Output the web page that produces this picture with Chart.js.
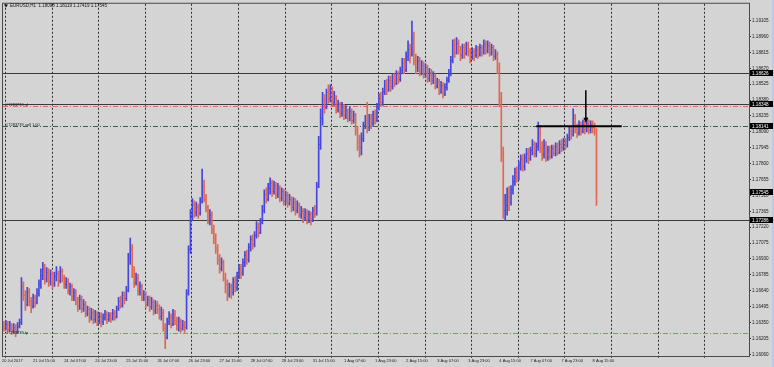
<!DOCTYPE html>
<html>
<head>
<meta charset="utf-8">
<script src="https://cdn.jsdelivr.net/npm/chart.js@4.4.1/dist/chart.umd.min.js"></script>
<style>
  html, body { margin: 0; padding: 0; background: #d4d4d4; }
  #wrap { width: 774px; height: 367px; position: relative; }
</style>
</head>
<body>
<div id="wrap"><canvas id="chart"></canvas></div>
<script>
// EURUSD H1, 20 Jul 2017 23:00 .. 8 Aug 2017 16:00 (one entry per hourly bar)
const opens = [
  1.1632, 1.1630, 1.1634, 1.1629, 1.1633, 1.1628, 1.1631, 1.1627, 1.1632, 1.1635,
  1.1668, 1.1660, 1.1652, 1.1663, 1.1655, 1.1650, 1.1658, 1.1654, 1.1662, 1.1670,
  1.1678, 1.1684, 1.1676, 1.1681, 1.1673, 1.1679, 1.1671, 1.1677, 1.1680, 1.1674,
  1.1682, 1.1676, 1.1670, 1.1673, 1.1664, 1.1668, 1.1659, 1.1663, 1.1655, 1.1650,
  1.1656, 1.1648, 1.1652, 1.1644, 1.1647, 1.1640, 1.1645, 1.1638, 1.1643, 1.1637,
  1.1641, 1.1636, 1.1640, 1.1643, 1.1638, 1.1642, 1.1639, 1.1644, 1.1641, 1.1648,
  1.1655, 1.1651, 1.1660, 1.1657, 1.1665, 1.1695, 1.1702, 1.1680, 1.1672, 1.1676,
  1.1664, 1.1668, 1.1658, 1.1661, 1.1652, 1.1656, 1.1650, 1.1654, 1.1646, 1.1651,
  1.1647, 1.1641, 1.1645, 1.1630, 1.1622, 1.1636, 1.1640, 1.1634, 1.1643, 1.1637,
  1.1633, 1.1636, 1.1630, 1.1633, 1.1631, 1.1662, 1.1702, 1.1733, 1.1742, 1.1736,
  1.1740, 1.1735, 1.1746, 1.1760, 1.1748, 1.1740, 1.1728, 1.1733, 1.1720, 1.1712,
  1.1702, 1.1693, 1.1685, 1.1690, 1.1676, 1.1670, 1.1661, 1.1668, 1.1663, 1.1672,
  1.1667, 1.1678, 1.1684, 1.1680, 1.1690, 1.1697, 1.1693, 1.1704, 1.1711, 1.1707,
  1.1715, 1.1722, 1.1718, 1.1727, 1.1738, 1.1752, 1.1748, 1.1758, 1.1762, 1.1755,
  1.1760, 1.1752, 1.1758, 1.1749, 1.1755, 1.1746, 1.1751, 1.1744, 1.1748, 1.1740,
  1.1745, 1.1738, 1.1742, 1.1734, 1.1737, 1.1731, 1.1736, 1.1729, 1.1734, 1.1730,
  1.1738, 1.1735, 1.1760, 1.1798, 1.1822, 1.1838, 1.1832, 1.1845, 1.1840, 1.1848,
  1.1836, 1.1840, 1.1830, 1.1834, 1.1826, 1.1832, 1.1824, 1.1829, 1.1822, 1.1828,
  1.1820, 1.1824, 1.1812, 1.1800, 1.1795, 1.1803, 1.1815, 1.1820, 1.1813, 1.1822,
  1.1817, 1.1825, 1.1820, 1.1832, 1.1840, 1.1836, 1.1846, 1.1852, 1.1848, 1.1856,
  1.1851, 1.1858, 1.1854, 1.1862, 1.1857, 1.1865, 1.1872, 1.1866, 1.1878, 1.1885,
  1.1880, 1.1895, 1.1875, 1.1868, 1.1874, 1.1865, 1.1870, 1.1862, 1.1868, 1.1858,
  1.1864, 1.1856, 1.1860, 1.1851, 1.1855, 1.1846, 1.1852, 1.1844, 1.1850, 1.1856,
  1.1862, 1.1875, 1.1888, 1.1882, 1.1890, 1.1884, 1.1879, 1.1886, 1.1881, 1.1888,
  1.1883, 1.1877, 1.1883, 1.1879, 1.1885, 1.1880, 1.1886, 1.1882, 1.1889, 1.1884,
  1.1888, 1.1882, 1.1886, 1.1878, 1.1880, 1.1868, 1.1838, 1.1790, 1.1738, 1.1742,
  1.1750, 1.1745, 1.1757, 1.1764, 1.1772, 1.1768, 1.1779, 1.1784, 1.1778, 1.1786,
  1.1790, 1.1785, 1.1792, 1.1798, 1.1790, 1.1796, 1.1808, 1.1795, 1.1789, 1.1797,
  1.1786, 1.1792, 1.1787, 1.1794, 1.1790, 1.1796, 1.1791, 1.1798, 1.1795, 1.1800,
  1.1797, 1.1804, 1.1810, 1.1807, 1.1818, 1.1812, 1.1808, 1.1815, 1.1810, 1.1816,
  1.1812, 1.1817, 1.1811, 1.1816, 1.1813, 1.18098
];
const highs = [
  1.1636, 1.1637, 1.1636, 1.1636, 1.1634, 1.1634, 1.1633, 1.1635, 1.1638, 1.1676,
  1.1672, 1.1664, 1.1667, 1.1666, 1.1658, 1.1661, 1.1660, 1.1666, 1.1674, 1.1684,
  1.1690, 1.1688, 1.1685, 1.1684, 1.1683, 1.1681, 1.1681, 1.1686, 1.1682, 1.1686,
  1.1684, 1.1678, 1.1676, 1.1675, 1.1671, 1.1670, 1.1666, 1.1665, 1.1658, 1.1660,
  1.1659, 1.1656, 1.1654, 1.1650, 1.1649, 1.1648, 1.1647, 1.1646, 1.1645, 1.1644,
  1.1644, 1.1643, 1.1646, 1.1645, 1.1644, 1.1644, 1.1647, 1.1646, 1.1650, 1.1658,
  1.1659, 1.1663, 1.1663, 1.1668, 1.1698, 1.1712, 1.1706, 1.1686, 1.1680, 1.1679,
  1.1672, 1.1670, 1.1664, 1.1663, 1.1659, 1.1659, 1.1658, 1.1656, 1.1655, 1.1654,
  1.1651, 1.1649, 1.1647, 1.1634, 1.1639, 1.1645, 1.1643, 1.1647, 1.1646, 1.1640,
  1.1640, 1.1638, 1.1637, 1.1636, 1.1665, 1.1705, 1.1738, 1.1748, 1.1746, 1.1745,
  1.1743, 1.1749, 1.1775, 1.1765, 1.1752, 1.1742, 1.1738, 1.1736, 1.1724, 1.1716,
  1.1706, 1.1697, 1.1694, 1.1692, 1.1680, 1.1674, 1.1671, 1.1670, 1.1676, 1.1677,
  1.1681, 1.1688, 1.1688, 1.1693, 1.1700, 1.1701, 1.1707, 1.1714, 1.1715, 1.1718,
  1.1727, 1.1726, 1.1730, 1.1742, 1.1756, 1.1758, 1.1762, 1.1767, 1.1765, 1.1764,
  1.1763, 1.1762, 1.1760, 1.1758, 1.1757, 1.1755, 1.1754, 1.1752, 1.1750, 1.1749,
  1.1748, 1.1746, 1.1744, 1.1741, 1.1739, 1.1739, 1.1738, 1.1737, 1.1736, 1.1740,
  1.1742, 1.1763, 1.1805, 1.1830, 1.1845, 1.1843, 1.1848, 1.1852, 1.1852, 1.1850,
  1.1846, 1.1842, 1.1838, 1.1836, 1.1836, 1.1834, 1.1833, 1.1830, 1.1832, 1.1830,
  1.1828, 1.1826, 1.1814, 1.1806, 1.1808, 1.1818, 1.1824, 1.1836, 1.1825, 1.1825,
  1.1828, 1.1829, 1.1835, 1.1844, 1.1845, 1.1849, 1.1856, 1.1857, 1.1860, 1.1860,
  1.1862, 1.1862, 1.1865, 1.1864, 1.1868, 1.1876, 1.1876, 1.1882, 1.1892, 1.1889,
  1.1910, 1.1900, 1.1880, 1.1878, 1.1877, 1.1874, 1.1873, 1.1871, 1.1870, 1.1867,
  1.1866, 1.1864, 1.1862, 1.1858, 1.1857, 1.1855, 1.1854, 1.1853, 1.1859, 1.1866,
  1.1878, 1.1893, 1.1894, 1.1895, 1.1893, 1.1887, 1.1889, 1.1889, 1.1891, 1.1891,
  1.1885, 1.1886, 1.1885, 1.1888, 1.1887, 1.1889, 1.1888, 1.1893, 1.1892, 1.1892,
  1.1891, 1.1889, 1.1888, 1.1884, 1.1882, 1.1872, 1.1845, 1.1795, 1.1752, 1.1758,
  1.1759, 1.1760, 1.1769, 1.1776, 1.1777, 1.1782, 1.1788, 1.1788, 1.1789, 1.1794,
  1.1794, 1.1795, 1.1802, 1.1800, 1.1799, 1.1818, 1.1815, 1.1800, 1.1802, 1.1800,
  1.1796, 1.1796, 1.1797, 1.1797, 1.1799, 1.1799, 1.1801, 1.1802, 1.1803, 1.1803,
  1.1807, 1.1813, 1.1814, 1.1830, 1.1825, 1.1816, 1.1819, 1.1818, 1.1820, 1.1819,
  1.1822, 1.1820, 1.1819, 1.1819, 1.1817, 1.18119
];
const lows = [
  1.1627, 1.1628, 1.1626, 1.1627, 1.1624, 1.1626, 1.1622, 1.1625, 1.1630, 1.1633,
  1.1655, 1.1646, 1.1650, 1.1650, 1.1644, 1.1648, 1.1649, 1.1652, 1.1659, 1.1666,
  1.1674, 1.1670, 1.1672, 1.1668, 1.1669, 1.1666, 1.1668, 1.1673, 1.1668, 1.1671,
  1.1672, 1.1666, 1.1666, 1.1661, 1.1660, 1.1655, 1.1655, 1.1651, 1.1645, 1.1647,
  1.1644, 1.1645, 1.1640, 1.1641, 1.1635, 1.1637, 1.1634, 1.1635, 1.1632, 1.1634,
  1.1631, 1.1633, 1.1637, 1.1634, 1.1636, 1.1635, 1.1637, 1.1637, 1.1639, 1.1646,
  1.1648, 1.1649, 1.1652, 1.1655, 1.1663, 1.1688, 1.1676, 1.1667, 1.1669, 1.1660,
  1.1660, 1.1655, 1.1655, 1.1648, 1.1650, 1.1645, 1.1647, 1.1642, 1.1643, 1.1643,
  1.1638, 1.1637, 1.1627, 1.1611, 1.1620, 1.1633, 1.1630, 1.1632, 1.1633, 1.1628,
  1.1627, 1.1626, 1.1628, 1.1626, 1.1629, 1.1660, 1.1698, 1.1728, 1.1731, 1.1732,
  1.1730, 1.1733, 1.1744, 1.1745, 1.1736, 1.1725, 1.1724, 1.1716, 1.1707, 1.1698,
  1.1688, 1.1680, 1.1682, 1.1673, 1.1662, 1.1655, 1.1658, 1.1657, 1.1660, 1.1663,
  1.1664, 1.1675, 1.1675, 1.1678, 1.1686, 1.1688, 1.1690, 1.1700, 1.1702, 1.1704,
  1.1712, 1.1713, 1.1716, 1.1725, 1.1735, 1.1744, 1.1746, 1.1752, 1.1750, 1.1752,
  1.1748, 1.1749, 1.1745, 1.1746, 1.1742, 1.1743, 1.1740, 1.1742, 1.1736, 1.1737,
  1.1733, 1.1735, 1.1731, 1.1730, 1.1726, 1.1728, 1.1725, 1.1726, 1.1724, 1.1727,
  1.1731, 1.1733, 1.1758, 1.1793, 1.1815, 1.1826, 1.1830, 1.1835, 1.1836, 1.1832,
  1.1833, 1.1826, 1.1827, 1.1822, 1.1823, 1.1820, 1.1821, 1.1818, 1.1819, 1.1816,
  1.1817, 1.1806, 1.1792, 1.1786, 1.1788, 1.1800, 1.1812, 1.1808, 1.1810, 1.1812,
  1.1814, 1.1816, 1.1818, 1.1829, 1.1832, 1.1833, 1.1843, 1.1843, 1.1846, 1.1846,
  1.1848, 1.1850, 1.1852, 1.1853, 1.1855, 1.1862, 1.1862, 1.1864, 1.1874, 1.1872,
  1.1878, 1.1870, 1.1862, 1.1864, 1.1860, 1.1861, 1.1858, 1.1859, 1.1854, 1.1855,
  1.1852, 1.1853, 1.1848, 1.1849, 1.1843, 1.1844, 1.1840, 1.1842, 1.1847, 1.1854,
  1.1860, 1.1872, 1.1877, 1.1880, 1.1880, 1.1874, 1.1876, 1.1876, 1.1879, 1.1878,
  1.1872, 1.1875, 1.1874, 1.1877, 1.1876, 1.1878, 1.1878, 1.1880, 1.1880, 1.1881,
  1.1878, 1.1879, 1.1874, 1.1875, 1.1862, 1.1832, 1.1782, 1.1730, 1.1728, 1.1733,
  1.1737, 1.1742, 1.1752, 1.1760, 1.1763, 1.1765, 1.1774, 1.1773, 1.1774, 1.1781,
  1.1780, 1.1783, 1.1788, 1.1786, 1.1786, 1.1792, 1.1790, 1.1783, 1.1785, 1.1782,
  1.1783, 1.1784, 1.1785, 1.1787, 1.1787, 1.1788, 1.1789, 1.1791, 1.1792, 1.1793,
  1.1795, 1.1801, 1.1802, 1.1805, 1.1808, 1.1804, 1.1806, 1.1806, 1.1808, 1.1807,
  1.1809, 1.1807, 1.1808, 1.1808, 1.1806, 1.17419
];
const closes = [
  1.1630, 1.1634, 1.1629, 1.1633, 1.1628, 1.1631, 1.1627, 1.1632, 1.1635, 1.1668,
  1.1660, 1.1652, 1.1663, 1.1655, 1.1650, 1.1658, 1.1654, 1.1662, 1.1670, 1.1678,
  1.1684, 1.1676, 1.1681, 1.1673, 1.1679, 1.1671, 1.1677, 1.1680, 1.1674, 1.1682,
  1.1676, 1.1670, 1.1673, 1.1664, 1.1668, 1.1659, 1.1663, 1.1655, 1.1650, 1.1656,
  1.1648, 1.1652, 1.1644, 1.1647, 1.1640, 1.1645, 1.1638, 1.1643, 1.1637, 1.1641,
  1.1636, 1.1640, 1.1643, 1.1638, 1.1642, 1.1639, 1.1644, 1.1641, 1.1648, 1.1655,
  1.1651, 1.1660, 1.1657, 1.1665, 1.1695, 1.1702, 1.1680, 1.1672, 1.1676, 1.1664,
  1.1668, 1.1658, 1.1661, 1.1652, 1.1656, 1.1650, 1.1654, 1.1646, 1.1651, 1.1647,
  1.1641, 1.1645, 1.1630, 1.1622, 1.1636, 1.1640, 1.1634, 1.1643, 1.1637, 1.1633,
  1.1636, 1.1630, 1.1633, 1.1631, 1.1662, 1.1702, 1.1733, 1.1742, 1.1736, 1.1740,
  1.1735, 1.1746, 1.1760, 1.1748, 1.1740, 1.1728, 1.1733, 1.1720, 1.1712, 1.1702,
  1.1693, 1.1685, 1.1690, 1.1676, 1.1670, 1.1661, 1.1668, 1.1663, 1.1672, 1.1667,
  1.1678, 1.1684, 1.1680, 1.1690, 1.1697, 1.1693, 1.1704, 1.1711, 1.1707, 1.1715,
  1.1722, 1.1718, 1.1727, 1.1738, 1.1752, 1.1748, 1.1758, 1.1762, 1.1755, 1.1760,
  1.1752, 1.1758, 1.1749, 1.1755, 1.1746, 1.1751, 1.1744, 1.1748, 1.1740, 1.1745,
  1.1738, 1.1742, 1.1734, 1.1737, 1.1731, 1.1736, 1.1729, 1.1734, 1.1730, 1.1738,
  1.1735, 1.1760, 1.1798, 1.1822, 1.1838, 1.1832, 1.1845, 1.1840, 1.1848, 1.1836,
  1.1840, 1.1830, 1.1834, 1.1826, 1.1832, 1.1824, 1.1829, 1.1822, 1.1828, 1.1820,
  1.1824, 1.1812, 1.1800, 1.1795, 1.1803, 1.1815, 1.1820, 1.1813, 1.1822, 1.1817,
  1.1825, 1.1820, 1.1832, 1.1840, 1.1836, 1.1846, 1.1852, 1.1848, 1.1856, 1.1851,
  1.1858, 1.1854, 1.1862, 1.1857, 1.1865, 1.1872, 1.1866, 1.1878, 1.1885, 1.1880,
  1.1895, 1.1875, 1.1868, 1.1874, 1.1865, 1.1870, 1.1862, 1.1868, 1.1858, 1.1864,
  1.1856, 1.1860, 1.1851, 1.1855, 1.1846, 1.1852, 1.1844, 1.1850, 1.1856, 1.1862,
  1.1875, 1.1888, 1.1882, 1.1890, 1.1884, 1.1879, 1.1886, 1.1881, 1.1888, 1.1883,
  1.1877, 1.1883, 1.1879, 1.1885, 1.1880, 1.1886, 1.1882, 1.1889, 1.1884, 1.1888,
  1.1882, 1.1886, 1.1878, 1.1880, 1.1868, 1.1838, 1.1790, 1.1738, 1.1742, 1.1750,
  1.1745, 1.1757, 1.1764, 1.1772, 1.1768, 1.1779, 1.1784, 1.1778, 1.1786, 1.1790,
  1.1785, 1.1792, 1.1798, 1.1790, 1.1796, 1.1808, 1.1795, 1.1789, 1.1797, 1.1786,
  1.1792, 1.1787, 1.1794, 1.1790, 1.1796, 1.1791, 1.1798, 1.1795, 1.1800, 1.1797,
  1.1804, 1.1810, 1.1807, 1.1818, 1.1812, 1.1808, 1.1815, 1.1810, 1.1816, 1.1812,
  1.1817, 1.1811, 1.1816, 1.1813, 1.18098, 1.17545
];

// time axis labels, one every 16 bars
const timeLabels = [
  '20 Jul 2017', '21 Jul 15:00', '24 Jul 07:00', '24 Jul 23:00', '25 Jul 15:00',
  '26 Jul 07:00', '26 Jul 23:00', '27 Jul 15:00', '28 Jul 07:00', '28 Jul 23:00',
  '31 Jul 15:00', '1 Aug 07:00', '1 Aug 23:00', '2 Aug 15:00', '3 Aug 07:00',
  '3 Aug 23:00', '4 Aug 15:00', '7 Aug 07:00', '7 Aug 23:00', '8 Aug 15:00'
];
const priceTicks = [
  1.16060, 1.16205, 1.16350, 1.16495, 1.16640, 1.16785, 1.16930, 1.17075,
  1.17220, 1.17365, 1.17510, 1.17655, 1.17800, 1.17945, 1.18090, 1.18235,
  1.18380, 1.18525, 1.18670, 1.18815, 1.18960, 1.19105
];

// chart objects: horizontal lines, order levels, trend line, arrow
const hLines = [1.18626, 1.18348, 1.17286];
const orderLevels = [
  { price: 1.18324, text: '#7283739 sl', kind: 'stop' },
  { price: 1.18141, text: '#7283739 sell 1.00', kind: 'entry' },
  { price: 1.16250, text: '#7283739 tp', kind: 'stop' }
];
const priceTags = [1.18626, 1.18348, 1.18141, 1.17545, 1.17286];
const trendLine = { from: 274, to: 318, price: 1.18141 };
const arrowMark = { at: 299.5, from: 1.18470, to: 1.18174 };
const header = 'EURUSD,H1  1.18098 1.18119 1.17419 1.17545';

const slotCount = 384;          // bars + empty chart shift on the right
const UP = '#4646dc';
const DOWN = '#e0684f';
const barColor = i => closes[i] >= opens[i] ? UP : DOWN;

const categories = [];
for (let i = 0; i < slotCount; i++) categories.push(String(i));

const mt4 = {
  id: 'mt4',
  beforeDatasetsDraw(chart) {
    const { ctx, chartArea: a, scales: { x, y } } = chart;
    ctx.save();
    // period separators (day boundaries)
    ctx.strokeStyle = '#2e2e2e';
    ctx.lineWidth = 1;
    ctx.setLineDash([2, 2]);
    for (let i = 1; i < slotCount; i += 24) {
      const px = Math.round((x.getPixelForValue(i - 1) + x.getPixelForValue(i)) / 2) + 0.5;
      ctx.beginPath();
      ctx.moveTo(px, a.top);
      ctx.lineTo(px, a.bottom + 3);
      ctx.stroke();
    }
    // order levels
    ctx.setLineDash([5, 2, 1, 2]);
    orderLevels.forEach(l => {
      const py = Math.round(y.getPixelForValue(l.price)) + 0.5;
      ctx.strokeStyle = l.kind === 'stop' ? '#d8705e' : '#2f6a36';
      ctx.beginPath();
      ctx.moveTo(a.left, py);
      ctx.lineTo(a.right, py);
      ctx.stroke();
    });
    // horizontal lines
    ctx.setLineDash([]);
    ctx.strokeStyle = '#3a3a3a';
    hLines.forEach(p => {
      const py = Math.round(y.getPixelForValue(p)) + 0.5;
      ctx.beginPath();
      ctx.moveTo(a.left, py);
      ctx.lineTo(a.right, py);
      ctx.stroke();
    });
    ctx.restore();
  },
  afterDatasetsDraw(chart) {
    const { ctx, scales: { x, y } } = chart;
    ctx.save();
    // open / close ticks
    ctx.lineWidth = 1;
    for (let i = 0; i < closes.length; i++) {
      const px = x.getPixelForValue(i);
      const yo = Math.round(y.getPixelForValue(opens[i])) + 0.5;
      const yc = Math.round(y.getPixelForValue(closes[i])) + 0.5;
      ctx.strokeStyle = barColor(i);
      ctx.beginPath();
      ctx.moveTo(px - 0.9, yo); ctx.lineTo(px, yo);
      ctx.moveTo(px, yc); ctx.lineTo(px + 0.9, yc);
      ctx.stroke();
    }
    // trend line
    const ty = y.getPixelForValue(trendLine.price);
    ctx.strokeStyle = '#000';
    ctx.lineWidth = 2;
    ctx.beginPath();
    ctx.moveTo(x.getPixelForValue(trendLine.from), ty);
    ctx.lineTo(x.getPixelForValue(trendLine.to), ty);
    ctx.stroke();
    // arrow
    const ax = x.getPixelForValue(arrowMark.at);
    const ay1 = y.getPixelForValue(arrowMark.from);
    const ay2 = y.getPixelForValue(arrowMark.to);
    ctx.lineWidth = 1.5;
    ctx.beginPath();
    ctx.moveTo(ax, ay1);
    ctx.lineTo(ax, ay2 - 4);
    ctx.stroke();
    ctx.fillStyle = '#000';
    ctx.beginPath();
    ctx.moveTo(ax - 2.5, ay2 - 5);
    ctx.lineTo(ax + 2.5, ay2 - 5);
    ctx.lineTo(ax, ay2);
    ctx.closePath();
    ctx.fill();
    ctx.restore();
  },
  afterDraw(chart) {
    const { ctx, chartArea: a, scales: { x, y } } = chart;
    ctx.save();
    // frame
    ctx.strokeStyle = '#4a4a4a';
    ctx.lineWidth = 1;
    ctx.strokeRect(a.left - 0.5, a.top - 0.5, a.right - a.left + 1, a.bottom - a.top + 1);
    // window edge on the right
    ctx.fillStyle = '#b9cde2';
    ctx.fillRect(chart.width - 2, 0, 2, chart.height);
    // time labels
    ctx.fillStyle = '#1a1a1a';
    ctx.font = '4px "Liberation Sans"';
    ctx.textBaseline = 'middle';
    ctx.textAlign = 'left';
    timeLabels.forEach((t, k) => {
      ctx.fillText(t, x.getPixelForValue(k * 16) - 2, a.bottom + 5);
    });
    // header
    ctx.fillStyle = '#111';
    ctx.beginPath();
    ctx.moveTo(4, 4.5); ctx.lineTo(8, 4.5); ctx.lineTo(6, 7.5);
    ctx.closePath();
    ctx.fill();
    ctx.font = '4.5px "Liberation Sans"';
    ctx.fillText(header, 10, 6);
    // order level captions
    ctx.font = '4px "Liberation Sans"';
    ctx.textBaseline = 'bottom';
    orderLevels.forEach(l => {
      ctx.fillStyle = '#222';
      ctx.fillText(l.text, a.left + 3, y.getPixelForValue(l.price) + 1);
    });
    // price tags on the axis
    ctx.font = '4.6px "Liberation Sans"';
    ctx.textBaseline = 'middle';
    priceTags.forEach(p => {
      const py = Math.round(y.getPixelForValue(p));
      ctx.fillStyle = '#000';
      ctx.fillRect(a.right + 1, py - 3, 23, 6);
      ctx.fillStyle = '#fff';
      ctx.fillText(p.toFixed(5), a.right + 3, py + 0.3);
    });
    ctx.restore();
  }
};

new Chart(document.getElementById('chart'), {
  type: 'bar',
  data: {
    labels: categories,
    datasets: [{
      data: highs.map((h, i) => [lows[i], h]),
      backgroundColor: closes.map((c, i) => barColor(i)),
      borderWidth: 0,
      barThickness: 1
    }]
  },
  options: {
    responsive: true,
    maintainAspectRatio: false,
    animation: false,
    layout: { padding: { left: 3, top: 2, right: 0, bottom: 0 } },
    plugins: { legend: { display: false }, tooltip: { enabled: false } },
    scales: {
      x: {
        type: 'category',
        offset: true,
        grid: { display: false },
        border: { display: false },
        ticks: { display: false },
        afterFit: s => { s.height = 11; }
      },
      y: {
        position: 'right',
        min: 1.16044,
        max: 1.19259,
        grid: { drawOnChartArea: false, drawTicks: true, tickLength: 2, color: '#3a3a3a' },
        border: { display: false },
        ticks: {
          padding: 1,
          color: '#1a1a1a',
          font: { family: 'Liberation Sans', size: 4.6 },
          callback: v => Number(v).toFixed(5)
        },
        afterBuildTicks: s => { s.ticks = priceTicks.map(v => ({ value: v })); },
        afterFit: s => { s.width = 25; }
      }
    }
  },
  plugins: [mt4]
});
</script>
</body>
</html>
